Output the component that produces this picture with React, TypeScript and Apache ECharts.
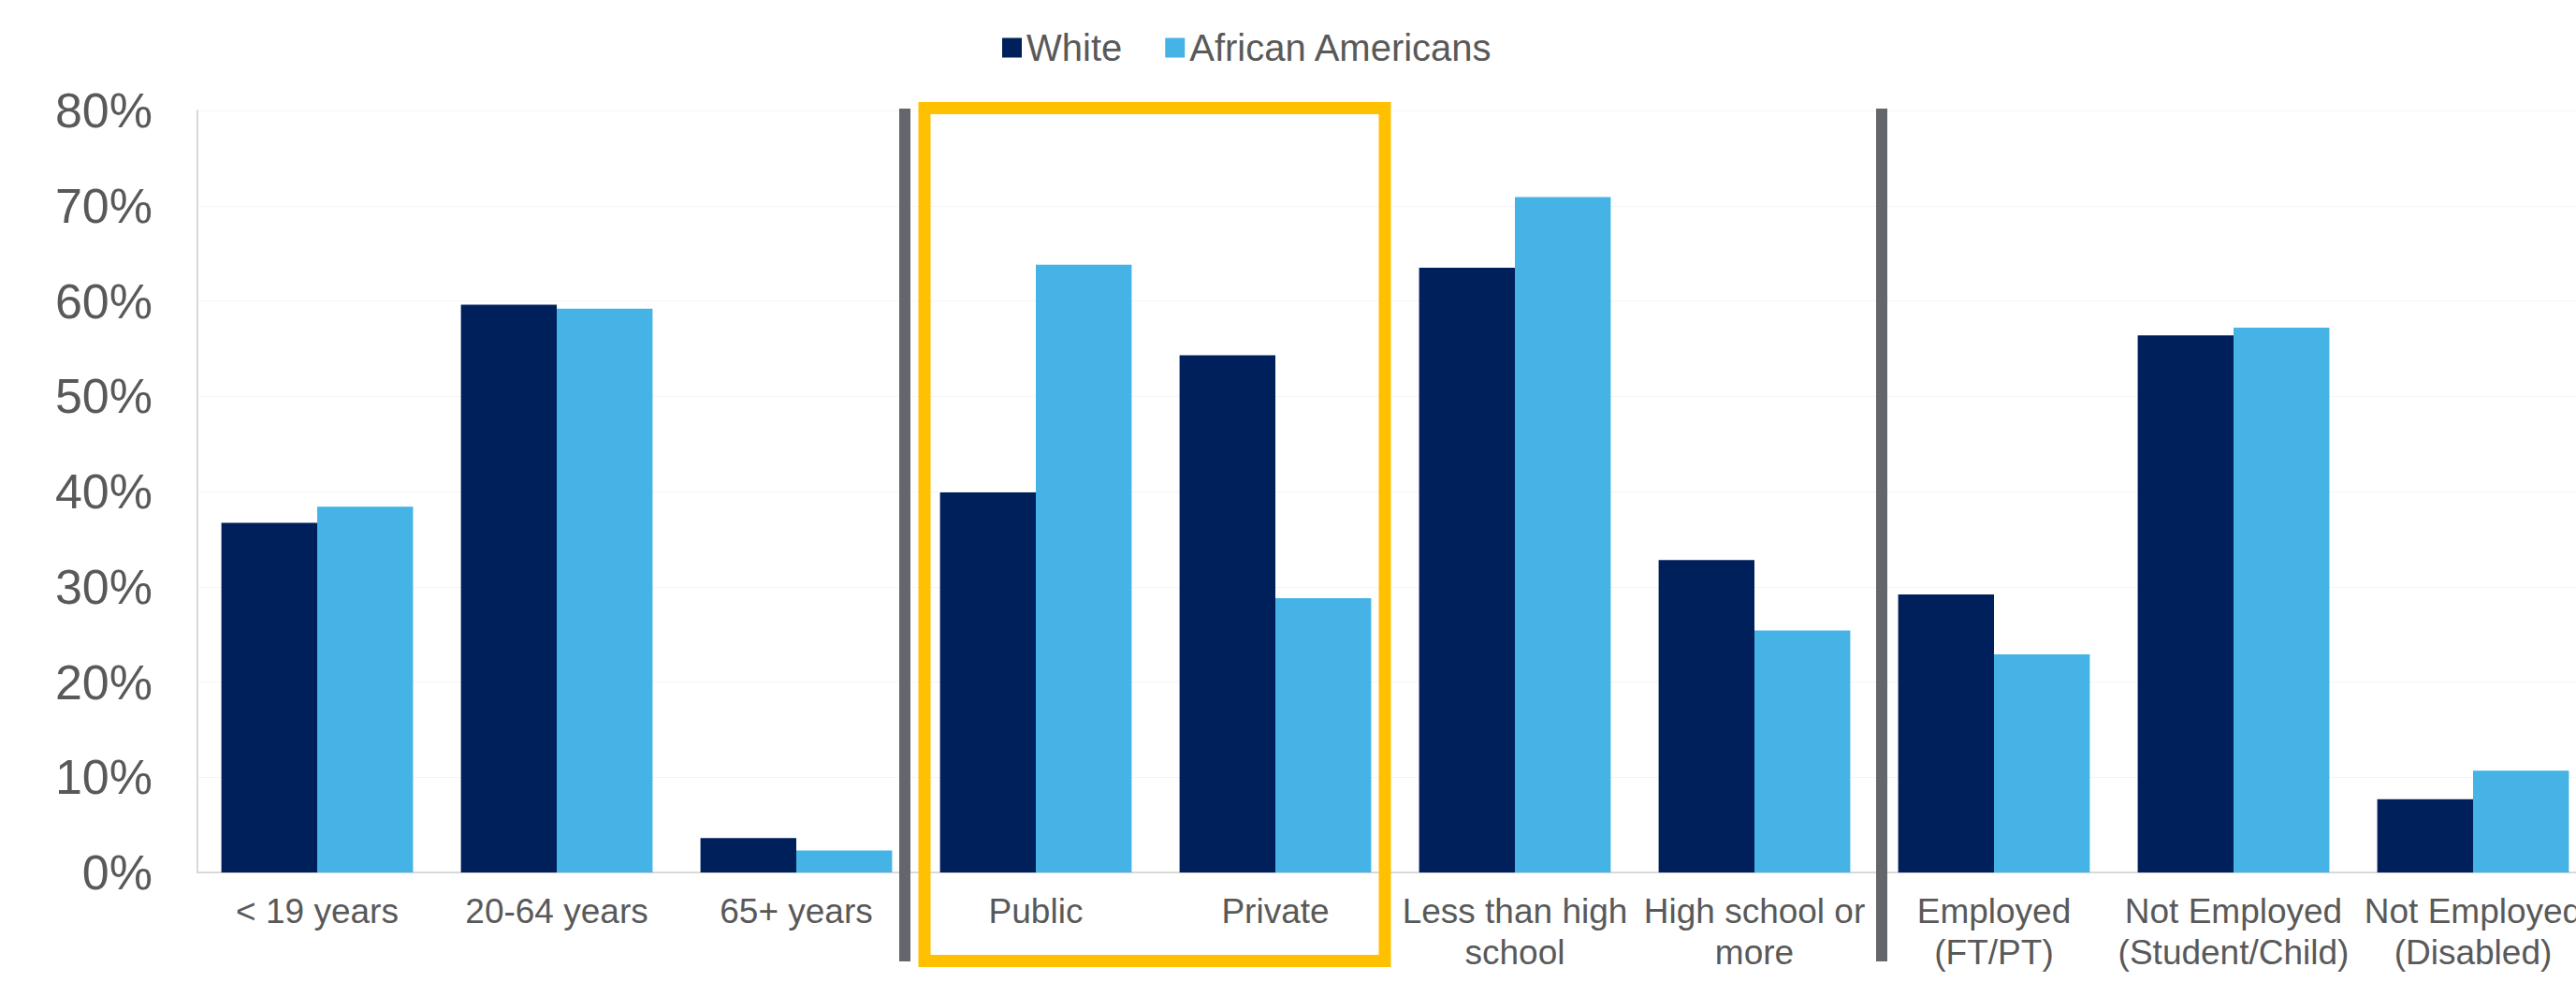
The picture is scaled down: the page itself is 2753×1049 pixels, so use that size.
import React, { useEffect, useRef } from "react";
import * as echarts from "echarts";

// Share of each group, in percent
const categories = [
  "< 19 years",
  "20-64 years",
  "65+ years",
  "Public",
  "Private",
  "Less than high\nschool",
  "High school or\nmore",
  "Employed\n(FT/PT)",
  "Not Employed\n(Student/Child)",
  "Not Employed\n(Disabled)",
];
const whiteValues = [36.7, 59.6, 3.6, 39.9, 54.3, 63.5, 32.8, 29.2, 56.4, 7.7];
const africanAmericanValues = [38.4, 59.2, 2.3, 63.8, 28.8, 70.9, 25.4, 22.9, 57.2, 10.7];
const yTicks = [0, 10, 20, 30, 40, 50, 60, 70, 80];

const FONT = "'Liberation Sans', Arial, sans-serif";
const TEXT = "#595959";
const NAVY = "#00205B";
const SKY = "#45B3E5";
const DIVIDER = "#63666A";
const HIGHLIGHT = "#FFC000";

// The plot runs a little past the right edge of the page, so the canvas is
// wider than the window and the overflow is cut off.
const CANVAS_W = 2771;
const CANVAS_H = 1049;

export default function App() {
  const ref = useRef<HTMLDivElement>(null);

  useEffect(() => {
    if (!ref.current) return;
    const chart = echarts.init(ref.current, undefined, { renderer: "svg" });
    chart.setOption({
      animation: false,
      backgroundColor: "#ffffff",
      textStyle: { fontFamily: FONT },
      legend: {
        left: 1066,
        top: 26,
        itemWidth: 21,
        itemHeight: 21,
        itemGap: 46,
        icon: "rect",
        textStyle: { fontFamily: FONT, fontSize: 40, color: TEXT },
        data: ["White", "African Americans"],
      },
      grid: { left: 211, right: 0, top: 118, bottom: 117, containLabel: false },
      xAxis: {
        type: "category",
        data: categories,
        axisLine: { show: true, lineStyle: { color: "#D9D9D9", width: 2 } },
        axisTick: { show: false },
        axisLabel: {
          interval: 0,
          margin: 19,
          fontFamily: FONT,
          fontSize: 37,
          lineHeight: 44,
          color: TEXT,
          align: "center",
        },
        splitLine: { show: false },
      },
      yAxis: {
        type: "value",
        min: yTicks[0],
        max: yTicks[yTicks.length - 1],
        interval: 10,
        axisLine: { show: true, lineStyle: { color: "#D9D9D9", width: 2 } },
        axisTick: { show: false },
        axisLabel: {
          margin: 48,
          fontFamily: FONT,
          fontSize: 52,
          color: TEXT,
          formatter: "{value}%",
        },
        splitLine: { show: true, lineStyle: { color: "#F5F5F5", width: 1 } },
      },
      series: [
        {
          name: "White",
          type: "bar",
          data: whiteValues,
          itemStyle: { color: NAVY },
          barGap: "0%",
          barCategoryGap: "20%",
        },
        {
          name: "African Americans",
          type: "bar",
          data: africanAmericanValues,
          itemStyle: { color: SKY },
          barGap: "0%",
          barCategoryGap: "20%",
        },
      ],
      graphic: [
        // section dividers
        {
          type: "line",
          z: 10,
          shape: { x1: 967, y1: 116, x2: 967, y2: 1027 },
          style: { stroke: DIVIDER, lineWidth: 12 },
        },
        {
          type: "line",
          z: 10,
          shape: { x1: 2011, y1: 116, x2: 2011, y2: 1027 },
          style: { stroke: DIVIDER, lineWidth: 12 },
        },
        // highlight frame around the school-type group
        {
          type: "rect",
          z: 10,
          shape: { x: 988, y: 115.5, width: 492, height: 911 },
          style: { stroke: HIGHLIGHT, lineWidth: 13, fill: "none" },
        },
      ],
    });
    return () => chart.dispose();
  }, []);

  return (
    <div style={{ position: "fixed", left: 0, top: 0, width: 2753, height: CANVAS_H, overflow: "hidden" }}>
      <div ref={ref} style={{ width: CANVAS_W, height: CANVAS_H }} />
    </div>
  );
}
